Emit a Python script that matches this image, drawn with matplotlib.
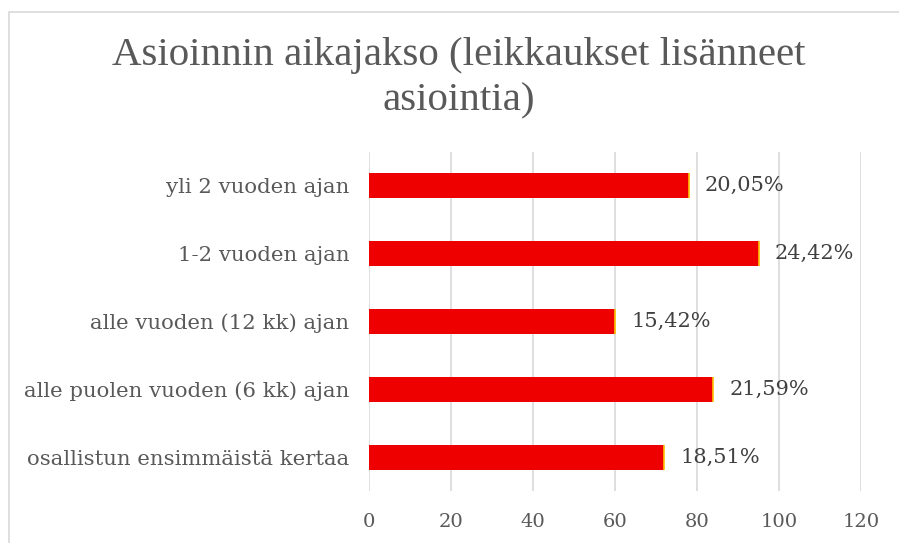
import matplotlib
matplotlib.use("Agg")
import matplotlib.pyplot as plt
from matplotlib.patches import Rectangle

categories = ["yli 2 vuoden ajan", "1-2 vuoden ajan", "alle vuoden (12 kk) ajan",
              "alle puolen vuoden (6 kk) ajan", "osallistun ensimmäistä kertaa"]
counts = [78, 95, 60, 84, 72]
pct_labels = ["20,05%", "24,42%", "15,42%", "21,59%", "18,51%"]
xticks = [0, 20, 40, 60, 80, 100, 120]
title = "Asioinnin aikajakso (leikkaukset lisänneet\nasiointia)"

SERIF = ["DejaVu Serif"]
TSERIF = ["Liberation Serif", "DejaVu Serif"]
W, H = 899, 543
fig = plt.figure(figsize=(W / 100, H / 100), dpi=100)
fig.patch.set_facecolor("white")

# chart border
fig.patches.append(Rectangle((9 / W, -0.05), 1.2, 1 - 12 / H + 0.05, transform=fig.transFigure,
                             fill=False, edgecolor="#d9d9d9", linewidth=1.2))

left, right, top, bottom = 369, 861, 152, 491
ax = fig.add_axes([left / W, 1 - bottom / H, (right - left) / W, (bottom - top) / H])

y = list(range(len(categories)))
bh = 0.37
ax.barh(y, counts, height=bh, color="#EE0000", edgecolor="none", zorder=3)
ax.vlines(counts, [v - bh / 2 for v in y], [v + bh / 2 for v in y], color="#FFC000",
          linewidth=1.2, zorder=4)

for yi, c, lab in zip(y, counts, pct_labels):
    ax.text(c + 3.9, yi, lab, va="center", ha="left", fontsize=15, color="#404040",
            family=SERIF)

ax.set_xlim(0, 120)
ax.set_ylim(len(categories) - 0.5, -0.5)
ax.set_xticks(xticks)
ax.set_xticklabels([str(t) for t in xticks], family=SERIF, fontsize=14, color="#595959")
ax.set_yticks(y)
ax.set_yticklabels(categories, family=SERIF, fontsize=15.3, color="#595959")
ax.tick_params(axis="both", length=0)
ax.tick_params(axis="x", pad=16)
ax.tick_params(axis="y", pad=14)
ax.grid(axis="x", color="#d9d9d9", linewidth=1.2, zorder=0)
ax.grid(axis="y", visible=False)
for s in ax.spines.values():
    s.set_visible(False)

fig.text(459 / W, 1 - 78 / H, title, ha="center", va="center", fontsize=29.5,
         color="#595959", family=TSERIF, linespacing=1.3)

fig.savefig("out.png", dpi=100)
